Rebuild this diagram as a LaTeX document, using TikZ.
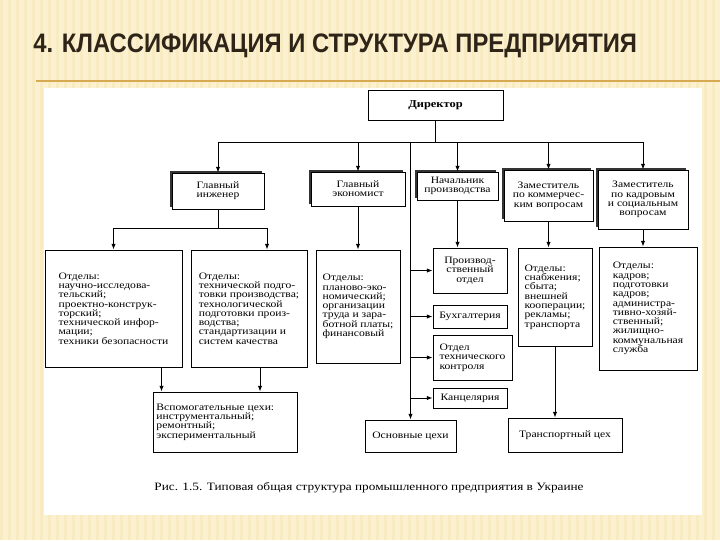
\documentclass[tikz,border=0pt]{standalone}
\usepackage{fontspec}
\setmainfont{Liberation Serif}
\newfontfamily\titlefont{Liberation Sans}[FakeStretch=0.89]
\newfontfamily\boxfont{Liberation Serif}[FakeStretch=1.18]
\usetikzlibrary{arrows.meta,positioning,shadows}
\definecolor{fondo}{HTML}{FBF0CF}
\definecolor{raya}{HTML}{F8EAC1}
\definecolor{linea}{HTML}{D6AA50}
\definecolor{titulo}{HTML}{2E2418}

\begin{document}
\begin{tikzpicture}[x=0.025cm,y=-0.025cm,
    caja/.style={draw,line width=0.6pt,fill=white,inner sep=2pt,align=center,
      font=\boxfont\fontsize{7}{6.6}\selectfont},
    jefe/.style={caja,general shadow={fill=black!80,shadow xshift=-1.3pt,shadow yshift=1.3pt}},
    otdel/.style={caja,align=left},
    flecha/.style={line width=0.6pt,-{Latex[length=4pt,width=3pt]}},
    conector/.style={line width=0.6pt}]
  % fondo de la diapositiva
  \useasboundingbox (0,0) rectangle (720,540);
  \fill[fondo] (0,0) rectangle (720,540);
  \foreach \x in {0,8,...,720}
    \fill[raya] (\x,0) rectangle ++(3,540);
  \draw[linea,line width=1.8pt] (36,81) -- (720,81);
  \fill[white] (44,88) rectangle (702,515);
  \node[anchor=base west,inner sep=0,titulo,font=\titlefont\fontsize{19}{21}\selectfont\bfseries]
    (titulo) at (33,52) {4. КЛАССИФИКАЦИЯ И СТРУКТУРА ПРЕДПРИЯТИЯ};

  % jefes
  \node[caja,minimum width=3.375cm,minimum height=0.75cm,font=\boxfont\fontsize{7.5}{7}\selectfont\bfseries]
    (dir) at (435.5,105) {Директор};
  \node[jefe,minimum width=2.3cm,minimum height=0.9cm] (ing) at (218,191) {Главный\\инженер};
  \node[jefe,minimum width=2.35cm,minimum height=0.85cm] (eko) at (358,189) {Главный\\экономист};
  \node[jefe,minimum width=2.025cm,minimum height=0.7cm] (nach) at (457.5,186) {Начальник\\производства};
  \node[jefe,minimum width=2.225cm,minimum height=1.275cm] (zamk) at (548.5,195.5) {Заместитель\\по коммерчес-\\ким вопросам};
  \node[jefe,minimum width=2.25cm,minimum height=1.475cm] (zamc) at (643,199.5) {Заместитель\\по кадровым\\и социальным\\вопросам};

  % отделы
  \node[otdel,minimum width=3.425cm,minimum height=2.925cm] (otd1) at (113.5,308.5)
    {Отделы:\\научно-исследова-\\тельский;\\проектно-конструк-\\торский;\\технической инфор-\\мации;\\техники безопасности};
  \node[otdel,minimum width=2.9cm,minimum height=2.925cm] (otd2) at (249,308.5)
    {Отделы:\\технической подго-\\товки производства;\\технологической\\подготовки произ-\\водства;\\стандартизации и\\систем качества};
  \node[otdel,minimum width=2.1cm,minimum height=2.825cm] (otd3) at (358,306.5)
    {Отделы:\\планово-эко-\\номический;\\организации\\труда и зара-\\ботной платы;\\финансовый};
  \node[caja,minimum width=1.85cm,minimum height=1.125cm] (prod) at (470,270.5) {Производ-\\ственный\\отдел};
  \node[caja,minimum width=1.85cm,minimum height=0.575cm] (buh) at (470,316.5) {Бухгалтерия};
  \node[otdel,minimum width=1.975cm,minimum height=1.125cm] (otk) at (472.5,357.5) {Отдел\\технического\\контроля};
  \node[caja,minimum width=1.85cm,minimum height=0.5cm] (kanc) at (470,398) {Канцелярия};
  \node[otdel,minimum width=1.85cm,minimum height=2.45cm] (otdk) at (555,297)
    {Отделы:\\снабжения;\\сбыта;\\внешней\\кооперации;\\рекламы;\\транспорта};
  \node[otdel,minimum width=2.45cm,minimum height=3.075cm] (otdc) at (648,308.5)
    {Отделы:\\кадров;\\подготовки\\кадров;\\администра-\\тивно-хозяй-\\ственный;\\жилищно-\\коммунальная\\служба};

  % цехи
  \node[otdel,text width=3.45cm,minimum height=1.5cm] (vspom) at (225.5,422)
    {Вспомогательные цехи:\\инструментальный;\\ремонтный;\\экспериментальный};
  \node[caja,minimum width=2.275cm,minimum height=0.8cm] (osn) at (410.5,436) {Основные цехи};
  \node[caja,minimum width=2.85cm,minimum height=0.85cm] (trans) at (565,435) {Транспортный цех};

  % связи
  \coordinate (busL) at (218,142);
  \coordinate (busR) at (643,142);
  \draw[conector] (dir) -- (dir|-busL);
  \draw[conector] (busL) -- (busR);
  \draw[flecha] (ing|-busL) -- (ing);
  \draw[flecha] (eko|-busL) -- (eko);
  \draw[flecha] (nach|-busL) -- (nach);
  \draw[flecha] (zamk|-busL) -- (zamk);
  \draw[flecha] (zamc|-busL) -- (zamc);
  \draw[flecha] (osn|-busL) -- (osn);
  \foreach \n in {prod,buh,otk,kanc}
    \draw[flecha] (osn|-\n) -- (\n);
  \coordinate (ingbus) at (218,228);
  \draw[conector] (ing) -- (ingbus);
  \draw[flecha] (ingbus) -| (otd1);
  \draw[flecha] (ingbus) -| ([xshift=0.45cm]otd2.north);
  \draw[flecha] (eko) -- (otd3);
  \draw[flecha] (nach) -- (nach|-prod.north);
  \draw[flecha] (zamk) -- (zamk|-otdk.north);
  \draw[flecha] (zamc) -- (zamc|-otdc.north);
  \draw[flecha] ([xshift=1.2cm]otd1.south) -- ([xshift=1.2cm]otd1.south |- vspom.north);
  \draw[flecha] ([xshift=0.275cm]otd2.south) -- ([xshift=0.275cm]otd2.south |- vspom.north);
  \draw[flecha] (otdk) -- (otdk|-trans.north);

  \node[font=\boxfont\fontsize{8}{9}\selectfont] (pie) at (369,488)
    {Рис. 1.5. Типовая общая структура промышленного предприятия в Украине};
\end{tikzpicture}
\end{document}
